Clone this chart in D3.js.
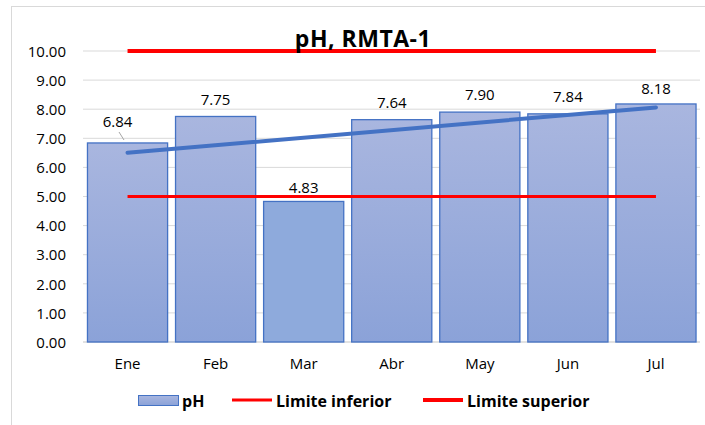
<!DOCTYPE html>
<html>
<head>
<meta charset="utf-8">
<script src="https://cdn.jsdelivr.net/npm/d3@7"></script>
<style>
  body { margin: 0; background: #fff; }
  text { font-family: "Open Sans", sans-serif; fill: #000; }
</style>
</head>
<body>
<script>
const width = 705
const height = 425

const months = ['Ene', 'Feb', 'Mar', 'Abr', 'May', 'Jun', 'Jul']
const phValues = [6.84, 7.75, 4.83, 7.64, 7.90, 7.84, 8.18]
const limiteInferior = [5, 5, 5, 5, 5, 5, 5]
const limiteSuperior = [10, 10, 10, 10, 10, 10, 10]
const yTicks = [0, 1, 2, 3, 4, 5, 6, 7, 8, 9, 10]

const svg = d3.select('body').append('svg')
  .attr('width', width)
  .attr('height', height)

// chart frame
svg.append('rect')
  .attr('x', 11.5).attr('y', 6.5)
  .attr('width', 720).attr('height', 440)
  .attr('fill', '#fff').attr('stroke', '#d9d9d9')

const defs = svg.append('defs')
const grad = defs.append('linearGradient')
  .attr('id', 'barGrad').attr('x1', 0).attr('y1', 0).attr('x2', 0).attr('y2', 1)
grad.append('stop').attr('offset', '0%').attr('stop-color', '#a9b6df')
grad.append('stop').attr('offset', '100%').attr('stop-color', '#8ba2d8')

const x = d3.scaleBand()
  .domain(months)
  .range([83.5, 700])
  .paddingInner(0.09)
  .paddingOuter(0.045)

const y = d3.scaleLinear()
  .domain([0, 10])
  .range([342, 51])

// gridlines
svg.append('g')
  .selectAll('line')
  .data(yTicks)
  .enter().append('line')
  .attr('x1', 83).attr('x2', 700)
  .attr('y1', d => y(d)).attr('y2', d => y(d))
  .attr('stroke', '#d9d9d9')
  .attr('stroke-width', d => d === 0 ? 1.5 : 1)

// y axis labels
const yAxis = d3.axisLeft(y).tickValues(yTicks).tickFormat(d3.format('.2f')).tickSize(0).tickPadding(0)
svg.append('g')
  .attr('transform', 'translate(66,0)')
  .call(yAxis)
  .call(g => g.select('.domain').remove())
  .selectAll('text')
  .attr('dy', '0.35em')
  .style('font-size', '15px')
  .style('font-family', '"Open Sans", sans-serif')
  .attr('fill', '#000')

// x axis labels
const xAxis = d3.axisBottom(x).tickSize(0).tickPadding(0)
svg.append('g')
  .attr('transform', 'translate(0,364)')
  .call(xAxis)
  .call(g => g.select('.domain').remove())
  .selectAll('text')
  .attr('dy', '0.35em')
  .style('font-size', '15px')
  .style('font-family', '"Open Sans", sans-serif')
  .attr('fill', '#000')

// bars
svg.append('g')
  .selectAll('rect')
  .data(phValues)
  .enter().append('rect')
  .attr('x', (d, i) => x(months[i]))
  .attr('y', d => y(d))
  .attr('width', x.bandwidth())
  .attr('height', d => y(0) - y(d))
  .attr('fill', (d, i) => months[i] === 'Mar' ? '#8eaadc' : 'url(#barGrad)')
  .attr('stroke', '#4472c4')
  .attr('stroke-width', 1.3)

const cx = m => x(m) + x.bandwidth() / 2

// limit lines
const lineGen = d3.line()
  .x((d, i) => cx(months[i]))
  .y(d => y(d))

svg.append('path')
  .datum(limiteInferior)
  .attr('d', lineGen)
  .attr('fill', 'none')
  .attr('stroke', '#ff0000')
  .attr('stroke-width', 3)

svg.append('path')
  .datum(limiteSuperior)
  .attr('d', lineGen)
  .attr('fill', 'none')
  .attr('stroke', '#ff0000')
  .attr('stroke-width', 4)

// linear trendline of pH
const n = phValues.length
const xs = phValues.map((d, i) => i + 1)
const mx = d3.mean(xs)
const my = d3.mean(phValues)
const slope = d3.sum(xs.map((xi, i) => (xi - mx) * (phValues[i] - my))) /
  d3.sum(xs.map(xi => (xi - mx) * (xi - mx)))
const icpt = my - slope * mx
svg.append('line')
  .attr('x1', cx(months[0])).attr('y1', y(icpt + slope * 1))
  .attr('x2', cx(months[n - 1])).attr('y2', y(icpt + slope * n))
  .attr('stroke', '#4472c4')
  .attr('stroke-width', 4)
  .attr('stroke-linecap', 'round')

// data labels
const labelOffsets = [-21, -17, -14, -17, -17, -17, -15]
const labelDx = [-10, 0, 0, 0, 0, 0, 0]
svg.append('g')
  .selectAll('text')
  .data(phValues)
  .enter().append('text')
  .attr('x', (d, i) => cx(months[i]) + labelDx[i])
  .attr('y', (d, i) => y(d) + labelOffsets[i])
  .attr('dy', '0.35em')
  .attr('text-anchor', 'middle')
  .style('font-size', '15px')
  .text(d => d3.format('.2f')(d))

// leader line for first label
svg.append('line')
  .attr('x1', 119).attr('y1', 132)
  .attr('x2', 124).attr('y2', 140)
  .attr('stroke', '#a6a6a6')

// title
svg.append('text')
  .attr('x', 363).attr('y', 47)
  .attr('text-anchor', 'middle')
  .style('font-size', '23px')
  .style('font-weight', 'bold')
  .style('letter-spacing', '0.5px')
  .text('pH, RMTA-1')

// legend
const legend = svg.append('g')
legend.append('rect')
  .attr('x', 138.5).attr('y', 395.5).attr('width', 40).attr('height', 10)
  .attr('fill', 'url(#barGrad)').attr('stroke', '#4472c4')
legend.append('text').attr('x', 182).attr('y', 401).attr('dy', '0.35em')
  .style('font-size', '16px').style('font-weight', 'bold').text('pH')
legend.append('line')
  .attr('x1', 232).attr('x2', 272).attr('y1', 400).attr('y2', 400)
  .attr('stroke', '#ff0000').attr('stroke-width', 3)
legend.append('text').attr('x', 276).attr('y', 401).attr('dy', '0.35em')
  .style('font-size', '16px').style('font-weight', 'bold').text('Limite inferior')
legend.append('line')
  .attr('x1', 423).attr('x2', 463).attr('y1', 400).attr('y2', 400)
  .attr('stroke', '#ff0000').attr('stroke-width', 4)
legend.append('text').attr('x', 467).attr('y', 401).attr('dy', '0.35em')
  .style('font-size', '16px').style('font-weight', 'bold').text('Limite superior')
</script>
</body>
</html>
